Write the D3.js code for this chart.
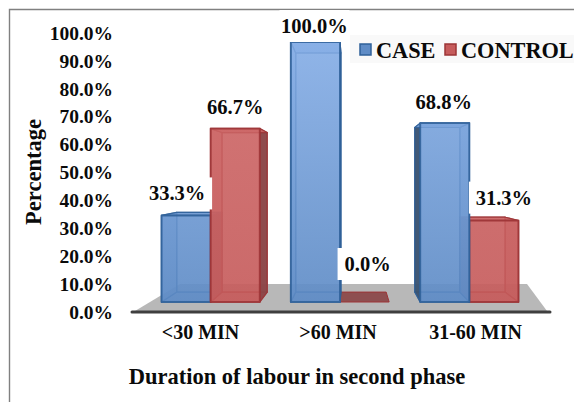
<!DOCTYPE html>
<html><head><meta charset="utf-8">
<script src="https://cdn.jsdelivr.net/npm/d3@7"></script>
<style>
html,body{margin:0;padding:0;background:#fff}
svg{display:block}
text{font-family:"Liberation Serif",serif;font-weight:bold;fill:#0a0a0a}
</style></head><body>
<script>
const categories = ["<30 MIN", ">60 MIN", "31-60 MIN"];
const seriesNames = ["CASE", "CONTROL"];
const caseValues = [33.3, 100.0, 68.8];
const controlValues = [66.7, 0.0, 31.3];
const yTicks = [0,10,20,30,40,50,60,70,80,90,100];

const W = 574, H = 402;
const svg = d3.select("body").append("svg").attr("width",W).attr("height",H);
const defs = svg.append("defs");
const palette = {
  CASE:{top:"#86aee6",bot:"#5f8cc6",stroke:"#2f6099",dark:"#3a5270"},
  CONTROL:{top:"#cf6a6a",bot:"#c65c5c",stroke:"#9c3436",dark:"#8a4547"}
};
seriesNames.forEach(s=>{
  const g=defs.append("linearGradient").attr("id","g"+s).attr("gradientUnits","userSpaceOnUse")
    .attr("x1",0).attr("x2",0).attr("y1",42).attr("y2",302);
  g.append("stop").attr("offset",0).attr("stop-color",palette[s].top);
  g.append("stop").attr("offset",1).attr("stop-color",palette[s].bot);
});

// frame
svg.append("path").attr("d",`M9.5,${H} V9.5 H${W}`).attr("fill","none").attr("stroke","#808080").attr("stroke-width",1.4);

// scales
const x0 = d3.scaleBand().domain(categories).range([146,534]).paddingInner(.24).paddingOuter(.12);
const x1 = d3.scaleBand().domain(seriesNames).range([0,x0.bandwidth()]);
const y = d3.scaleLinear().domain([0,100]).range([302,42]);
const yAxisScale = d3.scaleLinear().domain([0,100]).range([312,33]);
const xLabelScale = d3.scalePoint().domain(categories).range([200,475]);

// floor
svg.append("polygon").attr("points","135,311 547,311 527,284 180,284").attr("fill","#b8b8b8");
svg.append("line").attr("x1",132).attr("x2",550).attr("y1",312).attr("y2",312)
  .attr("stroke","#3f3f3f").attr("stroke-width",3).attr("stroke-linecap","round");

// perspective depth
const vp=[352,178], t=.08;
const back=p=>[p[0]+t*(vp[0]-p[0]), p[1]+t*(vp[1]-p[1])];

const rows = categories.map((c,i)=>({c,i,bars:[
  {s:"CASE",v:caseValues[i]},{s:"CONTROL",v:controlValues[i]}]}));

const barsG = svg.append("g");
function drawBar(c,b){
  const xl=x0(c)+x1(b.s), xr=xl+x1.bandwidth(), yt=y(b.v), yb=y(0);
  const F=[[xl,yt],[xr,yt],[xr,yb],[xl,yb]], K=F.map(back);
  const pal=palette[b.s], g=barsG.append("g");
  const rightOfVp=(xl+xr)/2>vp[0];
  const face=(pts,fill,op,sw=1.6)=>g.append("polygon").attr("points",pts.map(p=>p.join(",")).join(" "))
    .attr("fill",fill).attr("fill-opacity",op).attr("stroke",pal.stroke).attr("stroke-opacity",.85)
    .attr("stroke-width",sw).attr("stroke-linejoin","round");
  const left=[F[0],K[0],K[3],F[3]], right=[F[1],K[1],K[2],F[2]];
  const fill=`url(#g${b.s})`;
  if(b.v===0){
    g.append("polygon").attr("points",[F[3],F[2],K[2],K[3]].map(p=>p.join(",")).join(" "))
      .attr("fill",pal.dark).attr("fill-opacity",.92).attr("stroke",pal.stroke).attr("stroke-width",1);
    return;
  }
  face(K,fill,.45,1.2);
  face([F[3],F[2],K[2],K[3]],fill,.6,1.2);
  face(rightOfVp?right:left,fill,.7,1.2);
  face(rightOfVp?left:right,pal.dark,.95,1.2);
  face([F[0],F[1],K[1],K[0]],fill,.85,1.2);
  face(F,fill,.85,2);
}
// bars nearer the vanishing point are painted last
rows.forEach(r=>{
  const ordered = r.i===0 ? r.bars : [r.bars[1],r.bars[0]];
  ordered.forEach(b=>drawBar(r.c,b));
});

// value labels with white plates
const labelNudge = {
  "CASE":[[-9,-22],[-1,-16],[-1,-21]],
  "CONTROL":[[0,-22],[3,-38],[10,-23]]
};
const labelG = svg.append("g");
rows.forEach(r=>r.bars.forEach(b=>{
  const n=labelNudge[b.s][r.i];
  const cx=x0(r.c)+x1(b.s)+x1.bandwidth()/2+n[0], cy=y(b.v)+n[1];
  const hw=b.v===0?30:35;
  labelG.append("rect").attr("x",cx-hw).attr("y",cy-16).attr("width",hw*2).attr("height",32).attr("fill","#fff");
  labelG.append("text").attr("x",cx).attr("y",cy).attr("dy",".34em").attr("text-anchor","middle")
    .attr("font-size",20.5).text(b.v.toFixed(1)+"%");
}));

// axes
const yAxis = d3.axisLeft(yAxisScale).tickValues(yTicks).tickSize(0).tickPadding(0).tickFormat(d=>d.toFixed(1)+"%");
const ya=svg.append("g").attr("transform","translate(113,0)").call(yAxis);
ya.select(".domain").remove();
ya.selectAll("text").attr("font-size",19.5).attr("fill",null);
ya.attr("font-family",null).attr("font-size",null);

const xAxis = d3.axisBottom(xLabelScale).tickSize(0).tickPadding(0);
const xa=svg.append("g").attr("transform","translate(0,325)").call(xAxis);
xa.select(".domain").remove();
xa.selectAll("text").attr("font-size",20).attr("dy","0.71em").attr("fill",null);
xa.attr("font-family",null).attr("font-size",null);

svg.append("text").attr("x",297).attr("y",384).attr("text-anchor","middle").attr("font-size",22.5)
  .text("Duration of labour in second phase");
svg.append("text").attr("transform","translate(41,172) rotate(-90)").attr("text-anchor","middle").attr("font-size",22.5)
  .text("Percentage");

// legend
const lg=svg.append("g");
lg.append("rect").attr("x",350).attr("y",35).attr("width",224).attr("height",28).attr("fill","#f9f9f9");
const legendX=d3.scaleOrdinal().domain(seriesNames).range([360,445]);
seriesNames.forEach(s=>{
  lg.append("rect").attr("x",legendX(s)).attr("y",44).attr("width",11).attr("height",11)
    .attr("fill",palette[s].bot).attr("stroke",palette[s].stroke).attr("stroke-width",1.5);
  lg.append("text").attr("x",legendX(s)+16).attr("y",50).attr("dy",".34em").attr("font-size",22.3).text(s);
});
</script>
</body></html>
